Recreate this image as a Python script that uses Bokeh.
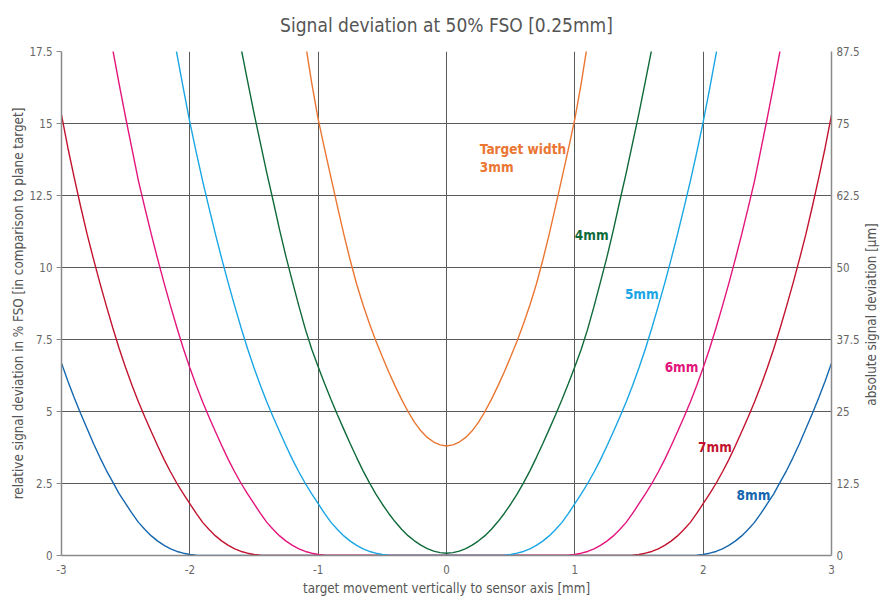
from bokeh.plotting import figure
from bokeh.layouts import row
from bokeh.models import Range1d, LinearAxis, FixedTicker, Label
from bokeh.embed import file_html
from bokeh.resources import INLINE

# ---- data: target movement [mm] and relative signal deviation [% FSO] ----
X_3MM = [-1.15, -1.1, -1.05, -1.0, -0.95, -0.9, -0.85, -0.8, -0.75, -0.7, -0.65, -0.6,
         -0.55, -0.5, -0.45, -0.4, -0.35, -0.3, -0.25, -0.2, -0.15, -0.1, -0.05, 0.0,
         0.05, 0.1, 0.15, 0.2, 0.25, 0.3, 0.35, 0.4, 0.45, 0.5, 0.55, 0.6,
         0.65, 0.7, 0.75, 0.8, 0.85, 0.9, 0.95, 1.0, 1.05, 1.1, 1.15]
Y_3MM = [19.3, 17.8, 16.4, 15.15, 14.12, 13.12, 12.12, 11.15, 10.25, 9.42, 8.7, 8.05,
         7.45, 6.9, 6.37, 5.88, 5.42, 5.0, 4.63, 4.33, 4.1, 3.94, 3.84, 3.8,
         3.84, 3.94, 4.1, 4.33, 4.63, 5.0, 5.42, 5.88, 6.37, 6.9, 7.45, 8.05,
         8.7, 9.42, 10.25, 11.15, 12.12, 13.12, 14.12, 15.15, 16.4, 17.8, 19.3]

X_4MM = [-1.65, -1.6, -1.55, -1.5, -1.45, -1.4, -1.35, -1.3, -1.25, -1.2, -1.15,
         -1.1, -1.05, -1.0, -0.95, -0.9, -0.85, -0.8, -0.75, -0.7, -0.65, -0.6,
         -0.55, -0.5, -0.45, -0.4, -0.35, -0.3, -0.25, -0.2, -0.15, -0.1, -0.05,
         0.0,
         0.05, 0.1, 0.15, 0.2, 0.25, 0.3, 0.35, 0.4, 0.45, 0.5, 0.55,
         0.6, 0.65, 0.7, 0.75, 0.8, 0.85, 0.9, 0.95, 1.0, 1.05, 1.1,
         1.15, 1.2, 1.25, 1.3, 1.35, 1.4, 1.45, 1.5, 1.55, 1.6, 1.65]
Y_4MM = [18.8, 17.6, 16.47, 15.36, 14.32, 13.28, 12.3, 11.3, 10.36, 9.5, 8.66,
         7.86, 7.16, 6.55, 5.97, 5.42, 4.89, 4.38, 3.88, 3.4, 2.94, 2.52,
         2.13, 1.78, 1.46, 1.17, 0.91, 0.69, 0.51, 0.36, 0.24, 0.15, 0.1,
         0.08,
         0.1, 0.15, 0.24, 0.36, 0.51, 0.69, 0.91, 1.17, 1.46, 1.78, 2.13,
         2.52, 2.94, 3.4, 3.88, 4.38, 4.89, 5.42, 5.97, 6.55, 7.16, 7.86,
         8.66, 9.5, 10.36, 11.3, 12.3, 13.28, 14.32, 15.36, 16.47, 17.6, 18.8]

X_5MM = [-2.15, -2.1, -2.05, -2.0, -1.95, -1.9, -1.85, -1.8, -1.75, -1.7, -1.65, -1.6,
         -1.55, -1.5, -1.45, -1.4, -1.35, -1.3, -1.25, -1.2, -1.15, -1.1, -1.05, -1.0,
         -0.95, -0.9, -0.85, -0.8, -0.75, -0.7, -0.65, -0.6, -0.55, -0.5, -0.45, -0.4,
         0.4, 0.45, 0.5, 0.55, 0.6, 0.65, 0.7, 0.75, 0.8, 0.85, 0.9, 0.95,
         1.0, 1.05, 1.1, 1.15, 1.2, 1.25, 1.3, 1.35, 1.4, 1.45, 1.5, 1.55,
         1.6, 1.65, 1.7, 1.75, 1.8, 1.85, 1.9, 1.95, 2.0, 2.05, 2.1, 2.15]
Y_5MM = [18.65, 17.4, 16.2, 15.05, 14.0, 13.0, 12.06, 11.15, 10.28, 9.45, 8.66, 7.9,
         7.18, 6.52, 5.9, 5.33, 4.8, 4.3, 3.8, 3.33, 2.9, 2.5, 2.14, 1.8,
         1.46, 1.15, 0.9, 0.68, 0.5, 0.35, 0.23, 0.14, 0.08, 0.035, 0.01, 0.0,
         0.0, 0.01, 0.035, 0.08, 0.14, 0.23, 0.35, 0.5, 0.68, 0.9, 1.15, 1.46,
         1.8, 2.14, 2.5, 2.9, 3.33, 3.8, 4.3, 4.8, 5.33, 5.9, 6.52, 7.18,
         7.9, 8.66, 9.45, 10.28, 11.15, 12.06, 13.0, 14.0, 15.05, 16.2, 17.4, 18.65]

X_6MM = [-2.65, -2.6, -2.55, -2.5, -2.45, -2.4, -2.35, -2.3, -2.25, -2.2, -2.15, -2.1,
         -2.05, -2.0, -1.95, -1.9, -1.85, -1.8, -1.75, -1.7, -1.65, -1.6, -1.55, -1.5,
         -1.45, -1.4, -1.35, -1.3, -1.25, -1.2, -1.15, -1.1, -1.05, -1.0, -0.95, -0.9,
         0.9, 0.95, 1.0, 1.05, 1.1, 1.15, 1.2, 1.25, 1.3, 1.35, 1.4, 1.45,
         1.5, 1.55, 1.6, 1.65, 1.7, 1.75, 1.8, 1.85, 1.9, 1.95, 2.0, 2.05,
         2.1, 2.15, 2.2, 2.25, 2.3, 2.35, 2.4, 2.45, 2.5, 2.55, 2.6, 2.65]
Y_6MM = [18.8, 17.55, 16.35, 15.2, 14.1, 13.0, 12.06, 11.15, 10.28, 9.45, 8.66, 7.9,
         7.18, 6.52, 5.9, 5.33, 4.8, 4.3, 3.8, 3.33, 2.9, 2.5, 2.14, 1.8,
         1.46, 1.15, 0.9, 0.68, 0.5, 0.35, 0.23, 0.14, 0.08, 0.035, 0.01, 0.0,
         0.0, 0.01, 0.035, 0.08, 0.14, 0.23, 0.35, 0.5, 0.68, 0.9, 1.15, 1.46,
         1.8, 2.14, 2.5, 2.9, 3.33, 3.8, 4.3, 4.8, 5.33, 5.9, 6.52, 7.18,
         7.9, 8.66, 9.45, 10.28, 11.15, 12.06, 13.0, 14.1, 15.2, 16.35, 17.55, 18.8]

X_7MM = [-3.0, -2.95, -2.9, -2.85, -2.8, -2.75, -2.7, -2.65, -2.6, -2.55, -2.5,
         -2.45, -2.4, -2.35, -2.3, -2.25, -2.2, -2.15, -2.1, -2.05, -2.0, -1.95,
         -1.9, -1.85, -1.8, -1.75, -1.7, -1.65, -1.6, -1.55, -1.5, -1.45, -1.4,
         1.4, 1.45, 1.5, 1.55, 1.6, 1.65, 1.7, 1.75, 1.8, 1.85, 1.9,
         1.95, 2.0, 2.05, 2.1, 2.15, 2.2, 2.25, 2.3, 2.35, 2.4, 2.45,
         2.5, 2.55, 2.6, 2.65, 2.7, 2.75, 2.8, 2.85, 2.9, 2.95, 3.0]
Y_7MM = [15.3, 14.15, 13.1, 12.1, 11.15, 10.28, 9.45, 8.66, 7.9, 7.18, 6.52,
         5.9, 5.33, 4.8, 4.3, 3.8, 3.33, 2.9, 2.5, 2.14, 1.8, 1.46,
         1.15, 0.9, 0.68, 0.5, 0.35, 0.23, 0.14, 0.08, 0.035, 0.01, 0.0,
         0.0, 0.01, 0.035, 0.08, 0.14, 0.23, 0.35, 0.5, 0.68, 0.9, 1.15,
         1.46, 1.8, 2.14, 2.5, 2.9, 3.33, 3.8, 4.3, 4.8, 5.33, 5.9,
         6.52, 7.18, 7.9, 8.66, 9.45, 10.28, 11.15, 12.1, 13.1, 14.15, 15.3]

X_8MM = [-3.0, -2.95, -2.9, -2.85, -2.8, -2.75, -2.7, -2.65, -2.6, -2.55, -2.5, -2.45,
         -2.4, -2.35, -2.3, -2.25, -2.2, -2.15, -2.1, -2.05, -2.0, -1.95, -1.9,
         1.9, 1.95, 2.0, 2.05, 2.1, 2.15, 2.2, 2.25, 2.3, 2.35, 2.4, 2.45,
         2.5, 2.55, 2.6, 2.65, 2.7, 2.75, 2.8, 2.85, 2.9, 2.95, 3.0]
Y_8MM = [6.68, 6.05, 5.47, 4.92, 4.4, 3.88, 3.4, 2.95, 2.55, 2.14, 1.8, 1.46,
         1.15, 0.9, 0.68, 0.5, 0.35, 0.23, 0.14, 0.08, 0.035, 0.01, 0.0,
         0.0, 0.01, 0.035, 0.08, 0.14, 0.23, 0.35, 0.5, 0.68, 0.9, 1.15, 1.46,
         1.8, 2.14, 2.55, 2.95, 3.4, 3.88, 4.4, 4.92, 5.47, 6.05, 6.68]

SERIES = [(X_8MM, Y_8MM), (X_7MM, Y_7MM), (X_6MM, Y_6MM),
          (X_5MM, Y_5MM), (X_4MM, Y_4MM), (X_3MM, Y_3MM)]
SERIES_NAMES = ["8mm", "7mm", "6mm", "5mm", "4mm", "Target width\n3mm"]

X_TICKS = [-3, -2, -1, 0, 1, 2, 3]
X_TICK_LABELS = ["-3", "-2", "-1", "0", "1", "2", "3"]
Y_TICKS = [0, 2.5, 5, 7.5, 10, 12.5, 15, 17.5]
Y_TICK_LABELS = ["0", "2.5", "5", "7.5", "10", "12.5", "15", "17.5"]
Y2_TICKS = [0, 12.5, 25, 37.5, 50, 62.5, 75, 87.5]
Y2_TICK_LABELS = ["0", "12.5", "25", "37.5", "50", "62.5", "75", "87.5"]

# ---- styles ----
COLORS = ["#1466ae", "#c2132e", "#e3147c", "#19a6e4", "#0f6a3a", "#ea7632"]
FONT = "'Liberation Sans Narrow', 'DejaVu Sans Condensed', sans-serif"
GRID = "#5a5a5a"
AXIS = "#8a8a8a"

MAIN_W = 864
SIDE_W = 892 - MAIN_W
H = 598

p = figure(width=MAIN_W, height=H, output_backend="svg", toolbar_location=None,
           x_range=Range1d(-3, 3), y_range=Range1d(0, 17.5),
           min_border_left=61, min_border_right=MAIN_W - 831, min_border_top=51,
           min_border_bottom=43)
p.outline_line_color = None
p.extra_y_ranges = {"abs": Range1d(0, 87.5)}

p.title.text = "Signal deviation at 50% FSO [0.25mm]"
p.title.align = "center"
p.title.vertical_align = "top"
p.title.text_font = FONT
p.title.text_font_size = "19px"
p.title.text_font_style = "normal"
p.title.text_color = "#555555"
p.title.standoff = 27

p.xgrid.ticker = FixedTicker(ticks=X_TICKS)
p.ygrid.ticker = FixedTicker(ticks=Y_TICKS)
for g in (p.xgrid, p.ygrid):
    g.grid_line_color = GRID
    g.grid_line_width = 1

for (xs, ys), col in zip(SERIES, COLORS):
    p.line(xs, ys, line_color=col, line_width=1.4)

def style_axis(ax):
    ax.axis_line_color = AXIS
    ax.axis_line_width = 1.5
    ax.major_tick_line_color = AXIS
    ax.minor_tick_line_color = None
    ax.major_label_text_font = FONT
    ax.major_label_text_font_size = "11.5px"
    ax.major_label_text_color = "#666666"
    ax.axis_label_text_font = FONT
    ax.axis_label_text_font_size = "13.3px"
    ax.axis_label_text_font_style = "normal"
    ax.axis_label_text_color = "#555555"

xa = p.xaxis[0]
xa.ticker = FixedTicker(ticks=X_TICKS)
xa.major_label_overrides = dict(zip(X_TICKS, X_TICK_LABELS))
xa.axis_label = "target movement vertically to sensor axis [mm]"
style_axis(xa)
xa.major_tick_out = 0
xa.major_tick_in = 0
xa.major_label_standoff = 9
xa.axis_label_standoff = 4

ya = p.yaxis[0]
ya.ticker = FixedTicker(ticks=Y_TICKS)
ya.major_label_overrides = dict(zip(Y_TICKS, Y_TICK_LABELS))
ya.axis_label = "relative signal deviation in % FSO [in comparison to plane target]"
style_axis(ya)
ya.major_tick_out = 5
ya.major_tick_in = 0
ya.major_label_standoff = 4
ya.axis_label_standoff = 0

ra = LinearAxis(y_range_name="abs", ticker=FixedTicker(ticks=Y2_TICKS))
ra.major_label_overrides = dict(zip(Y2_TICKS, Y2_TICK_LABELS))
style_axis(ra)
ra.major_tick_out = 0
ra.major_tick_in = 0
ra.major_label_standoff = 5
p.add_layout(ra, "right")

LABEL_POS = [(2.26, 2.11), (1.96, 3.76), (1.70, 6.55), (1.39, 9.09), (1.0, 11.12), (0.26, 14.1)]
for name, (lx, ly), col in zip(SERIES_NAMES, LABEL_POS, COLORS):
    for k, line in enumerate(name.split("\n")):
        p.add_layout(Label(x=lx, y=ly, y_offset=-18 * k, text=line, text_font=FONT,
                           text_font_style="bold", text_font_size="13.5px",
                           text_color=col, text_baseline="middle", text_align="left"))

# narrow strip on the right carrying the right axis title (reads bottom-to-top)
q = figure(width=SIDE_W, height=H, output_backend="svg", toolbar_location=None,
           x_range=Range1d(0, SIDE_W), y_range=Range1d(0, H),
           x_axis_location=None, y_axis_location=None,
           min_border_left=0, min_border_right=0, min_border_top=0, min_border_bottom=0)
q.outline_line_color = None
q.grid.visible = False
q.add_layout(Label(x=871 - MAIN_W, y=H - 312, text="absolute signal deviation [µm]",
                   text_font=FONT, text_font_size="13.3px", text_color="#555555",
                   text_align="center", text_baseline="middle", angle=90,
                   angle_units="deg"))

layout = row(p, q, spacing=0)
open("out.html", "w").write(file_html(layout, INLINE))
